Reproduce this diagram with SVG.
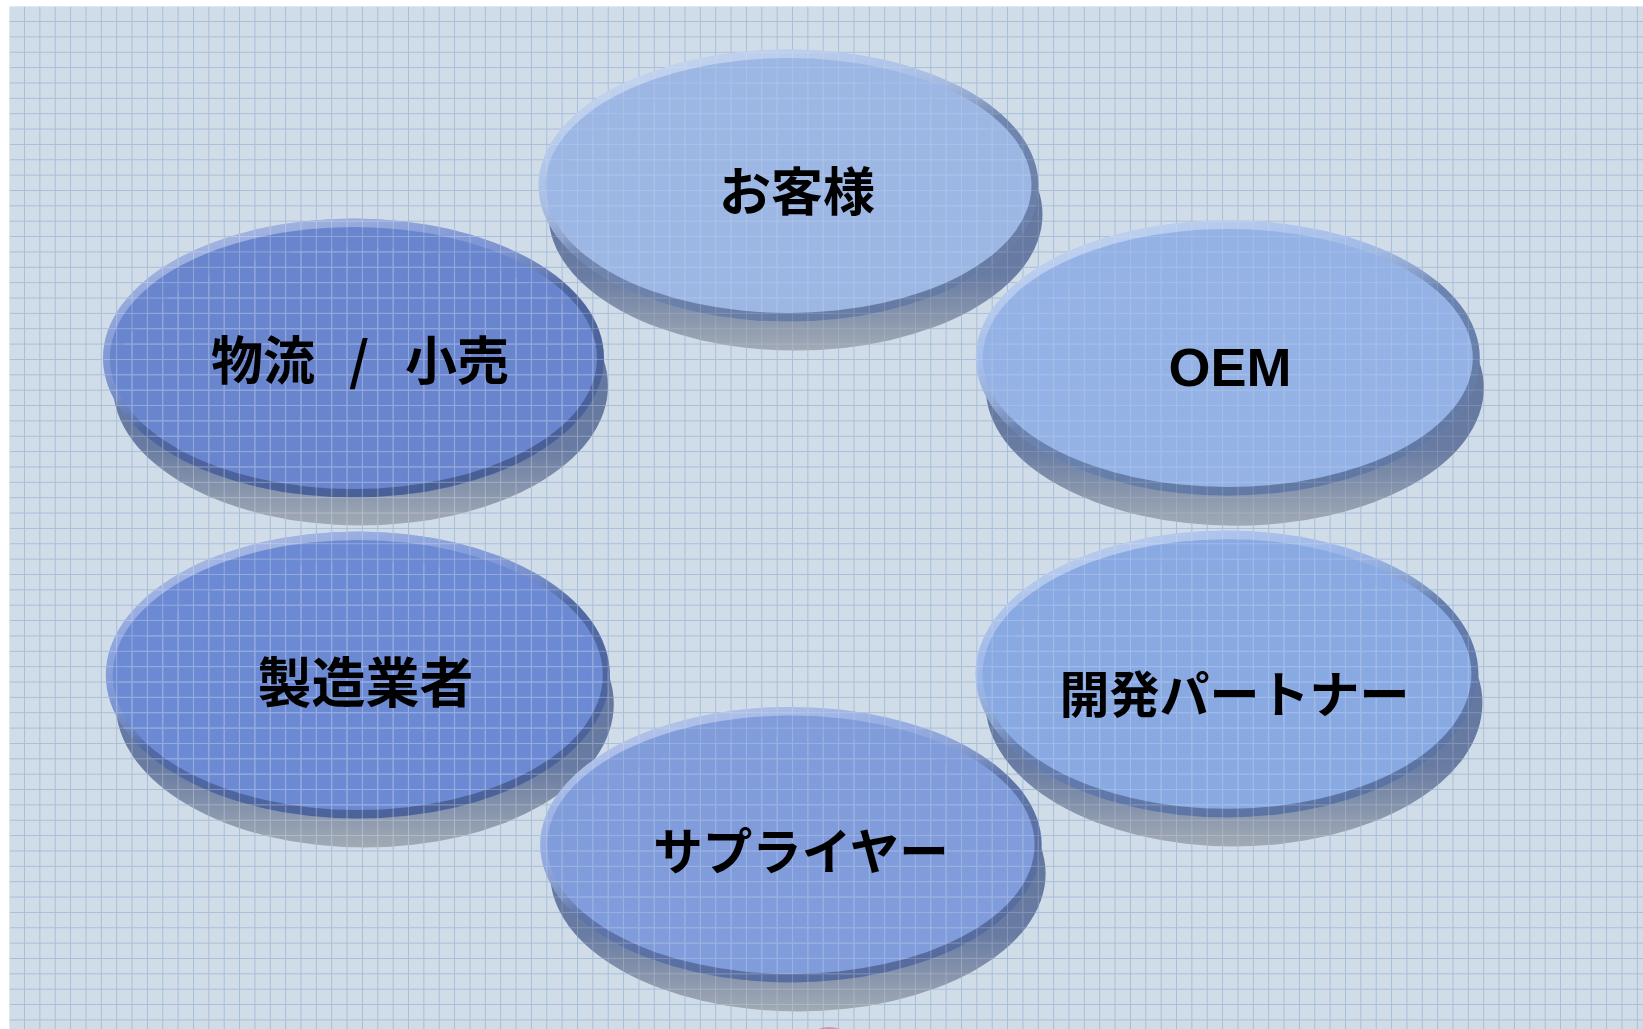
<svg xmlns="http://www.w3.org/2000/svg" width="1643" height="1029" viewBox="0 0 1643 1029">
  <defs>
    <pattern id="bgGrid" x="9.64" y="6.64" width="15.36" height="15.36" patternUnits="userSpaceOnUse">
      <path d="M14.86 0V15.36M0 14.86H15.36" stroke="#a8bdd7" stroke-width="1" fill="none"/>
    </pattern>
    <pattern id="wGrid" x="9.64" y="6.64" width="15.36" height="15.36" patternUnits="userSpaceOnUse">
      <path d="M14.86 0V15.36M0 14.86H15.36" stroke="#ffffff" stroke-width="1" fill="none"/>
    </pattern>
    <linearGradient id="shadowGrad" x1="0" y1="0" x2="0" y2="1">
      <stop offset="0" stop-color="#5d7199"/>
      <stop offset="0.72" stop-color="#687ba2"/>
      <stop offset="1" stop-color="#a1aab5"/>
    </linearGradient>
    <linearGradient id="rimGrad" x1="0.2" y1="0" x2="0.8" y2="1">
      <stop offset="0" stop-color="#ffffff" stop-opacity="0.45"/>
      <stop offset="0.3" stop-color="#ffffff" stop-opacity="0.15"/>
      <stop offset="0.5" stop-color="#1f2d4f" stop-opacity="0.35"/>
      <stop offset="1" stop-color="#1f2d4f" stop-opacity="0.45"/>
    </linearGradient>
  </defs>
  <style>
    .shadow { fill: url(#shadowGrad); }
    .rim { fill: url(#rimGrad); }
    .gridov { fill: url(#wGrid); }
    .ov { opacity: 0.28; }
    .ov-light { opacity: 0.14; }
    .ov-mid { opacity: 0.2; }
    .lbl { font-family: "Noto Sans CJK JP", "Noto Sans", sans-serif; font-weight: bold; font-size: 52px; fill: #000000; text-anchor: middle; }
    .latin { font-family: "Liberation Sans", Arial, sans-serif; font-weight: bold; font-size: 54px; fill: #000000; text-anchor: middle; }
  </style>

  <rect x="0" y="0" width="1643" height="1029" fill="#ffffff"/>
  <rect x="9.64" y="6.64" width="1634" height="1023" fill="#d0dde9"/>
  <rect x="9.64" y="6.64" width="1634" height="1023" fill="url(#bgGrid)"/>

  <g id="connectors"></g>

  <g id="node-okyakusama">
    <ellipse class="shadow" cx="795.5" cy="214.5" rx="247" ry="136"/>
    <ellipse cx="788.5" cy="185.5" rx="250" ry="136" fill="#9cb7e4"/>
    <ellipse class="rim" cx="788.5" cy="185.5" rx="250" ry="136"/>
    <ellipse cx="788.5" cy="185.5" rx="243" ry="127.5" fill="#9cb7e4"/>
    <g class="ov-light">
      <ellipse class="gridov" cx="795.5" cy="214.5" rx="247" ry="136"/>
      <ellipse class="gridov" cx="788.5" cy="185.5" rx="250" ry="136"/>
    </g>
    <text class="lbl" x="797" y="211">お客様</text>
  </g>

  <g id="node-butsuryu">
    <ellipse class="shadow" cx="360.5" cy="386" rx="247.5" ry="139.5"/>
    <ellipse cx="353.5" cy="358" rx="250.5" ry="139.5" fill="#6885cd"/>
    <ellipse class="rim" cx="353.5" cy="358" rx="250.5" ry="139.5"/>
    <ellipse cx="353.5" cy="358" rx="243.5" ry="131" fill="#6885cd"/>
    <g class="ov">
      <ellipse class="gridov" cx="360.5" cy="386" rx="247.5" ry="139.5"/>
      <ellipse class="gridov" cx="353.5" cy="358" rx="250.5" ry="139.5"/>
    </g>
    <text class="lbl" y="380" style="text-anchor:start"><tspan x="211">物流 </tspan><tspan x="349">/ </tspan><tspan x="405">小売</tspan></text>
  </g>

  <g id="node-oem">
    <ellipse class="shadow" cx="1234.8" cy="388" rx="249" ry="137.7"/>
    <ellipse cx="1227.8" cy="358" rx="252" ry="137.7" fill="#94b2e5"/>
    <ellipse class="rim" cx="1227.8" cy="358" rx="252" ry="137.7"/>
    <ellipse cx="1227.8" cy="358" rx="245" ry="129" fill="#94b2e5"/>
    <g class="ov-light">
      <ellipse class="gridov" cx="1234.8" cy="388" rx="249" ry="137.7"/>
      <ellipse class="gridov" cx="1227.8" cy="358" rx="252" ry="137.7"/>
    </g>
    <text class="latin" x="1230" y="386">OEM</text>
  </g>

  <g id="node-seizogyosha">
    <ellipse class="shadow" cx="364.8" cy="704" rx="249" ry="143.6"/>
    <ellipse cx="357.8" cy="675" rx="252" ry="143.6" fill="#6c8ad3"/>
    <ellipse class="rim" cx="357.8" cy="675" rx="252" ry="143.6"/>
    <ellipse cx="357.8" cy="675" rx="245" ry="135" fill="#6c8ad3"/>
    <g class="ov">
      <ellipse class="gridov" cx="364.8" cy="704" rx="249" ry="143.6"/>
      <ellipse class="gridov" cx="357.8" cy="675" rx="252" ry="143.6"/>
    </g>
    <text class="lbl" x="365.5" y="703" style="font-size:54px">製造業者</text>
  </g>

  <g id="node-kaihatsu">
    <ellipse class="shadow" cx="1234" cy="703" rx="248.4" ry="143.4"/>
    <ellipse cx="1227" cy="674" rx="251.4" ry="143.4" fill="#89a9e3"/>
    <ellipse class="rim" cx="1227" cy="674" rx="251.4" ry="143.4"/>
    <ellipse cx="1227" cy="674" rx="244.4" ry="134.8" fill="#89a9e3"/>
    <g class="ov-mid">
      <ellipse class="gridov" cx="1234" cy="703" rx="248.4" ry="143.4"/>
      <ellipse class="gridov" cx="1227" cy="674" rx="251.4" ry="143.4"/>
    </g>
    <text class="lbl" x="1234.5" y="713" style="font-size:50px">開発パートナー</text>
  </g>

  <g id="node-supplier">
    <ellipse class="shadow" cx="797.9" cy="873.7" rx="247.7" ry="137.8"/>
    <ellipse cx="790.9" cy="844.7" rx="250.7" ry="137.8" fill="#809cdb"/>
    <ellipse class="rim" cx="790.9" cy="844.7" rx="250.7" ry="137.8"/>
    <ellipse cx="790.9" cy="844.7" rx="243.7" ry="129.2" fill="#809cdb"/>
    <g class="ov-mid">
      <ellipse class="gridov" cx="797.9" cy="873.7" rx="247.7" ry="137.8"/>
      <ellipse class="gridov" cx="790.9" cy="844.7" rx="250.7" ry="137.8"/>
    </g>
    <text class="lbl" x="801" y="870" style="font-size:49.5px">サプライヤー</text>
  </g>

  <ellipse cx="829" cy="1035" rx="16" ry="8" fill="#c98a92" opacity="0.8"/>
</svg>
